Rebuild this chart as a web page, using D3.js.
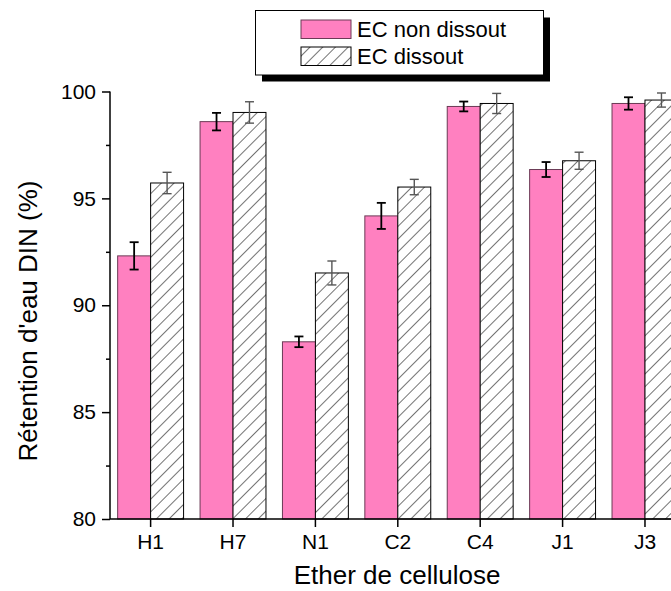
<!DOCTYPE html>
<html>
<head>
<meta charset="utf-8">
<script src="https://cdn.jsdelivr.net/npm/d3@7"></script>
<style>
html, body { margin: 0; padding: 0; background: #fff; }
svg { display: block; font-family: "Liberation Sans", Arial, sans-serif; }
</style>
</head>
<body>
<svg id="chart" width="671" height="591"></svg>
<script>
const categories = ["H1", "H7", "N1", "C2", "C4", "J1", "J3"];
const nonDissout = [92.31, 98.59, 88.29, 94.18, 99.30, 96.35, 99.44];
const nonDissoutErr = [0.64, 0.41, 0.25, 0.61, 0.23, 0.35, 0.29];
const dissout = [95.72, 99.02, 91.51, 95.53, 99.44, 96.76, 99.60];
const dissoutErr = [0.50, 0.50, 0.56, 0.36, 0.47, 0.40, 0.33];
const seriesNames = ["EC non dissout", "EC dissout"];
const yMajorTicks = [80, 85, 90, 95, 100];
const yMinorTicks = [82.5, 87.5, 92.5, 97.5];

const svg = d3.select("#chart");
const PINK = "#FF80C0";

const defs = svg.append("defs");
const pat = defs.append("pattern")
  .attr("id", "hatch")
  .attr("patternUnits", "userSpaceOnUse")
  .attr("width", 9).attr("height", 9)
  .attr("patternTransform", "rotate(45)");
pat.append("rect").attr("width", 9).attr("height", 9).attr("fill", "#fff");
pat.append("line").attr("x1", 0).attr("y1", 0).attr("x2", 0).attr("y2", 9)
  .attr("stroke", "#000").attr("stroke-width", 1.1);

const x = d3.scaleBand().domain(categories).range([110, 685.6])
  .paddingInner(0.2).paddingOuter(0.093);
const xs = d3.scaleBand().domain([0, 1]).range([0, x.bandwidth()]);
const y = d3.scaleLinear().domain([80, 100]).range([519, 91.5]);

const series = [
  { vals: nonDissout, errs: nonDissoutErr, fill: PINK, stroke: "#6b3a55", errColor: "#000", errW: 1.8 },
  { vals: dissout, errs: dissoutErr, fill: "url(#hatch)", stroke: "#000", errColor: "#555", errW: 1.4 }
];

series.forEach((s, si) => {
  const g = svg.append("g");
  g.selectAll("rect").data(categories).join("rect")
    .attr("x", c => x(c) + xs(si))
    .attr("y", (c, i) => y(s.vals[i]))
    .attr("width", xs.bandwidth())
    .attr("height", (c, i) => y(80) - y(s.vals[i]))
    .attr("fill", s.fill)
    .attr("stroke", s.stroke)
    .attr("stroke-width", 1);
});

series.forEach((s, si) => {
  const g = svg.append("g").attr("stroke", s.errColor).attr("stroke-width", s.errW);
  categories.forEach((c, i) => {
    const cx = x(c) + xs(si) + xs.bandwidth() / 2;
    const y1 = y(s.vals[i] + s.errs[i]);
    const y2 = y(s.vals[i] - s.errs[i]);
    g.append("line").attr("x1", cx).attr("x2", cx).attr("y1", y1).attr("y2", y2);
    g.append("line").attr("x1", cx - 4.5).attr("x2", cx + 4.5).attr("y1", y1).attr("y2", y1);
    g.append("line").attr("x1", cx - 4.5).attr("x2", cx + 4.5).attr("y1", y2).attr("y2", y2);
  });
});

// Y axis
const yAxis = d3.axisLeft(y).tickValues(yMajorTicks).tickSize(8).tickPadding(6).tickFormat(d3.format("d"));
const yg = svg.append("g").attr("transform", "translate(110,0)").call(yAxis);
yg.select(".domain").attr("stroke-width", 1.5).attr("d", `M0,${y(100)}V${y(80)}`);
yg.selectAll(".tick line").attr("stroke-width", 1.5);
yg.selectAll(".tick text").attr("font-size", 21).attr("font-family", "Liberation Sans, Arial, sans-serif").attr("fill", "#000");
const ym = d3.axisLeft(y).tickValues(yMinorTicks).tickSize(4).tickFormat("");
const ymg = svg.append("g").attr("transform", "translate(110,0)").call(ym);
ymg.select(".domain").remove();
ymg.selectAll(".tick line").attr("stroke-width", 1.5);

// X axis
const xAxis = d3.axisBottom(x).tickSize(8).tickPadding(7);
const xg = svg.append("g").attr("transform", `translate(0,${y(80)})`).call(xAxis);
xg.select(".domain").attr("stroke-width", 1.5).attr("d", `M110,0H690`);
xg.selectAll(".tick line").attr("stroke-width", 1.5);
xg.selectAll(".tick text").attr("font-size", 21).attr("font-family", "Liberation Sans, Arial, sans-serif").attr("fill", "#000");

// Axis titles
svg.append("text").attr("x", 397).attr("y", 584).attr("text-anchor", "middle")
  .attr("font-size", 26).text("Ether de cellulose");
svg.append("text").attr("transform", "translate(37,321) rotate(-90)")
  .attr("text-anchor", "middle").attr("font-size", 26).text("Rétention d'eau DIN (%)");

// Legend
const lg = svg.append("g");
lg.append("rect").attr("x", 262).attr("y", 17.5).attr("width", 288).attr("height", 64).attr("fill", "#000");
lg.append("rect").attr("x", 255.5).attr("y", 10.5).attr("width", 288).attr("height", 64.5)
  .attr("fill", "#fff").attr("stroke", "#000").attr("stroke-width", 1);
seriesNames.forEach((name, i) => {
  const s = series[i];
  lg.append("rect").attr("x", 301).attr("y", 20 + i * 27).attr("width", 50).attr("height", 18.5)
    .attr("fill", s.fill).attr("stroke", s.stroke).attr("stroke-width", 1);
  lg.append("text").attr("x", 357).attr("y", 37 + i * 27).attr("font-size", 22).text(name);
});
</script>
</body>
</html>
